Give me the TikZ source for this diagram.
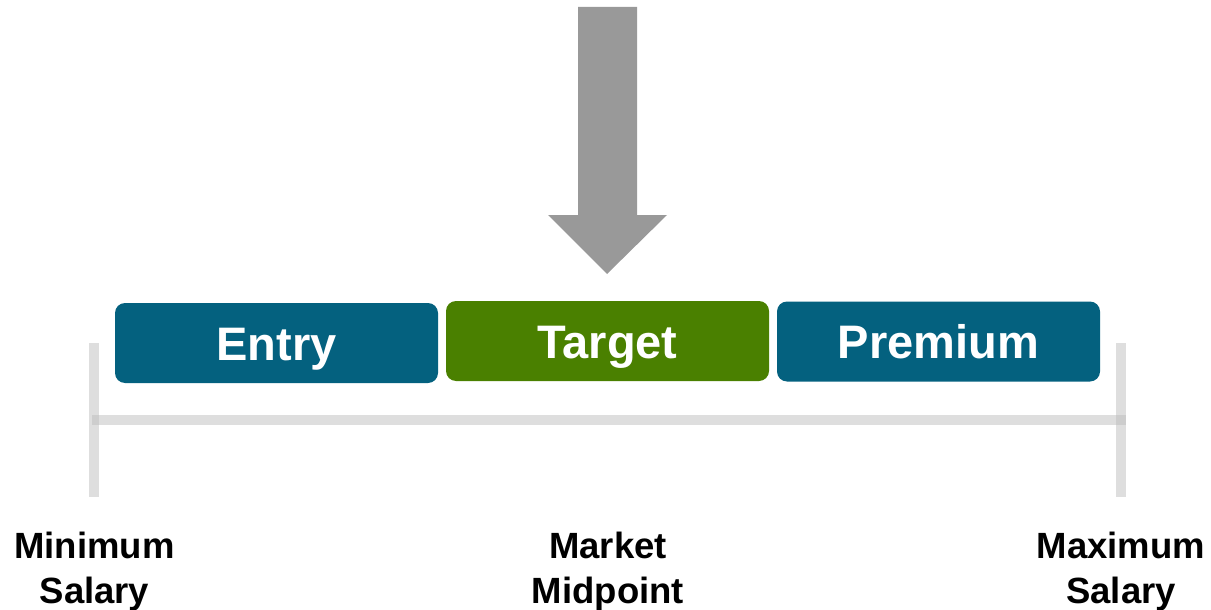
\documentclass[tikz,border=0pt]{standalone}
\usepackage{fontspec}
\setmainfont{Liberation Sans}
\begin{document}
\begin{tikzpicture}[x=1pt,y=-1pt,
  band/.style={draw=none, fill=#1, rounded corners=10pt,
    minimum width=323pt, minimum height=80pt, inner sep=0pt,
    text=white, font=\fontsize{47}{50}\selectfont\bfseries,
    text height=34pt, text depth=0pt},
  endlabel/.style={align=center, inner sep=0pt,
    font=\fontsize{36.5}{45}\selectfont\bfseries, text=black},
  rail/.style={line width=10pt, draw=black!26, draw opacity=0.5}]
\definecolor{bandblue}{HTML}{04617F}
\definecolor{bandgreen}{HTML}{4A8000}
\definecolor{arrowgray}{HTML}{999999}
\useasboundingbox (0,0) rectangle (1211,610);

% salary range rail with end ticks
\coordinate (railL) at (92,420);
\coordinate (railR) at (1126,420);
\coordinate (minTop) at (94,343);
\coordinate (minBot) at (94,497);
\coordinate (maxTop) at (1120.5,343);
\coordinate (maxBot) at (1120.5,497);
\draw[rail] (railL) -- (railR);
\draw[rail] (minTop) -- (minBot);
\draw[rail] (maxTop) -- (maxBot);

% pay bands
\node[band=bandblue]  (entry)   at (276.5,343) {Entry};
\node[band=bandgreen] (target)  at (607.5,341) {Target};
\node[band=bandblue]  (premium) at (938.5,341.5) {Premium};

% block arrow pointing at the target band
\fill[arrowgray] (578,7) -- (637,7) -- (637,215) -- (667,215)
  -- (607,274) -- (548,215) -- (578,215) -- cycle;

% end labels (base anchor sits on the second line)
\node[endlabel, anchor=base] (minlab) at (94.5,603) {Minimum\\Salary};
\node[endlabel, anchor=base] (midlab) at (608,603) {Market\\Midpoint};
\node[endlabel, anchor=base] (maxlab) at (1121,603) {Maximum\\Salary};
\end{tikzpicture}
\end{document}
